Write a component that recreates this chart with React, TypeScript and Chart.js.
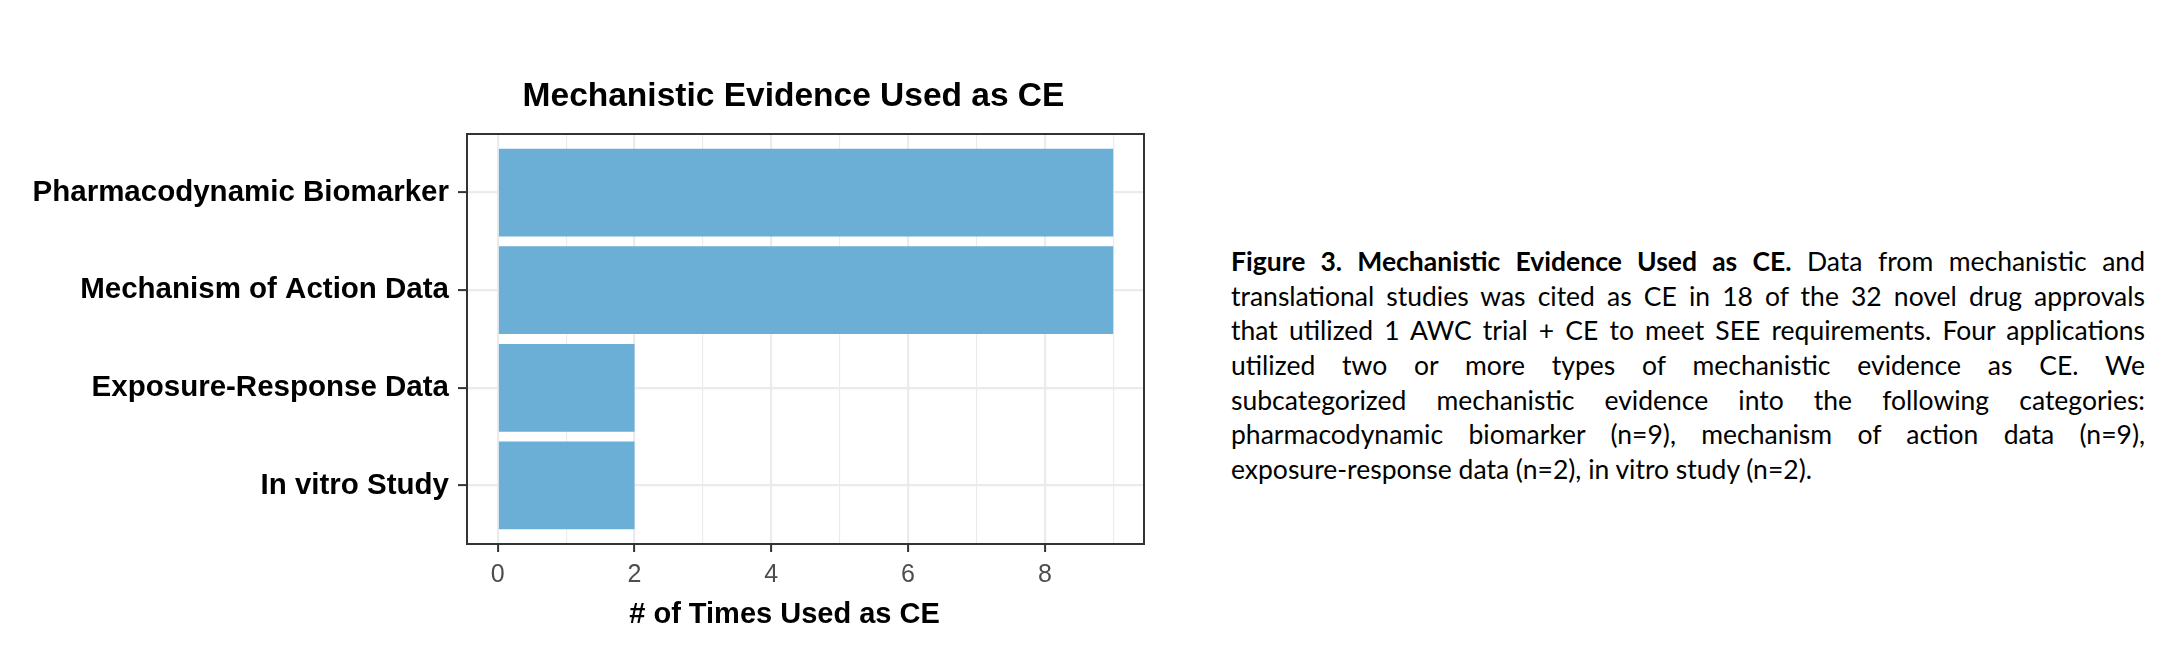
import React, { useEffect, useLayoutEffect, useRef, useState } from "react";
import { Chart, registerables } from "chart.js";

Chart.register(...registerables);

// ---- data ----
const categories = [
  "Pharmacodynamic Biomarker",
  "Mechanism of Action Data",
  "Exposure-Response Data",
  "In vitro Study",
];
const counts = [9, 9, 2, 2];
const xTickValues = [0, 1, 2, 3, 4, 5, 6, 7, 8, 9];
const xTickLabels = ["0", "", "2", "", "4", "", "6", "", "8", ""];
const chartTitle = "Mechanistic Evidence Used as CE";
const xAxisTitle = "# of Times Used as CE";
const captionBold = "Figure 3. Mechanistic Evidence Used as CE.";
const captionLines = [
  " Data from mechanistic and",
  "translational studies was cited as CE in 18 of the 32 novel drug approvals",
  "that utilized 1 AWC trial + CE to meet SEE requirements. Four applications",
  "utilized two or more types of mechanistic evidence as CE. We",
  "subcategorized mechanistic evidence into the following categories:",
  "pharmacodynamic biomarker (n=9), mechanism of action data (n=9),",
  "exposure-response data (n=2), in vitro study (n=2).",
];

const FONT = '"Liberation Sans", Arial, Helvetica, sans-serif';
const CAPTION_FONT = "Lato, 'Open Sans', sans-serif";
const CAPTION_WIDTH = 914;

const panelBorder = {
  id: "panelBorder",
  afterDatasetsDraw(chart: any) {
    const { ctx, chartArea } = chart;
    ctx.save();
    ctx.strokeStyle = "#333333";
    ctx.lineWidth = 2;
    ctx.strokeRect(
      chartArea.left,
      chartArea.top,
      chartArea.right - chartArea.left,
      chartArea.bottom - chartArea.top
    );
    ctx.restore();
  },
};

const figTexts = {
  id: "figTexts",
  afterDraw(chart: any) {
    const { ctx, chartArea } = chart;
    const cx = (chartArea.left + chartArea.right) / 2;
    ctx.save();
    ctx.fillStyle = "#000000";
    ctx.textAlign = "center";
    ctx.textBaseline = "alphabetic";
    ctx.font = `bold 33.5px ${FONT}`;
    ctx.fillText(chartTitle, cx - 12, chartArea.top - 28);
    ctx.font = `bold 29px ${FONT}`;
    ctx.fillText(xAxisTitle, cx - 21, chartArea.bottom + 79);
    ctx.restore();
  },
};

function BarChart() {
  const ref = useRef<HTMLCanvasElement>(null);
  useEffect(() => {
    if (!ref.current) return;
    const chart = new Chart(ref.current, {
      type: "bar",
      data: {
        datasets: [
          {
            data: counts.map((v, i) => ({ x: v, y: i + 1 })),
            backgroundColor: "#6baed6",
            borderWidth: 0,
            categoryPercentage: 1,
            barPercentage: 0.9,
          },
        ],
      },
      plugins: [panelBorder, figTexts],
      options: {
        animation: false,
        responsive: false,
        devicePixelRatio: 1,
        indexAxis: "y",
        layout: { padding: { top: 126, right: 64, left: 0, bottom: 0 } },
        plugins: {
          legend: { display: false },
          title: { display: false },
          tooltip: { enabled: false },
        },
        scales: {
          x: {
            type: "linear",
            min: -0.45,
            max: 9.45,
            offset: false,
            afterBuildTicks: (scale: any) => {
              scale.ticks = xTickValues.map((v) => ({ value: v }));
            },
            afterFit: (scale: any) => {
              scale.height = 98;
            },
            border: { display: false },
            grid: {
              offset: false,
              color: "#ebebeb",
              lineWidth: (c: any) =>
                c.tick && c.tick.value % 2 === 0 ? 2.2 : 1.1,
              drawTicks: true,
              tickLength: 8,
              tickWidth: 2,
              tickColor: (c: any) =>
                c.tick && c.tick.value % 2 === 0 ? "#333333" : "rgba(0,0,0,0)",
            },
            ticks: {
              autoSkip: false,
              maxRotation: 0,
              padding: 8,
              color: "#4d4d4d",
              font: { family: FONT, size: 25 },
              callback: (v: any) => {
                const i = xTickValues.indexOf(Number(v));
                return i >= 0 ? xTickLabels[i] : "";
              },
            },
          },
          y: {
            type: "linear",
            min: 0.4,
            max: 4.6,
            reverse: true,
            offset: false,
            afterBuildTicks: (scale: any) => {
              scale.ticks = categories.map((_, i) => ({ value: i + 1 }));
            },
            afterFit: (scale: any) => {
              scale.width = 459;
            },
            border: { display: false },
            grid: {
              offset: false,
              color: "#ebebeb",
              lineWidth: 2.2,
              drawTicks: true,
              tickLength: 9,
              tickWidth: 2,
              tickColor: "#333333",
            },
            ticks: {
              autoSkip: false,
              padding: 9,
              color: "#000000",
              font: { family: FONT, size: 29.5, weight: "bold" },
              callback: (v: any) => categories[Number(v) - 1] ?? "",
            },
          },
        },
      },
    } as any);
    return () => chart.destroy();
  }, []);
  return (
    <canvas
      ref={ref}
      width={1200}
      height={634}
      style={{ position: "absolute", left: 0, top: 0, width: 1200, height: 634 }}
    />
  );
}

function fitCaptionSize(): number {
  const maxSize = 26.5;
  try {
    const c = document.createElement("canvas").getContext("2d");
    if (!c) return 25;
    let widest = 0;
    captionLines.forEach((line, i) => {
      if (i === captionLines.length - 1) return;
      let w = 0;
      if (i === 0) {
        c.font = `bold ${maxSize}px ${CAPTION_FONT}`;
        w += c.measureText(captionBold).width;
      }
      c.font = `${maxSize}px ${CAPTION_FONT}`;
      w += c.measureText(line).width;
      widest = Math.max(widest, w);
    });
    const limit = CAPTION_WIDTH - 4;
    return widest > limit ? Math.floor((maxSize * limit) / widest * 10) / 10 : maxSize;
  } catch (e) {
    return 25;
  }
}

export default function App() {
  const [capSize, setCapSize] = useState(25);
  useLayoutEffect(() => {
    setCapSize(fitCaptionSize());
  }, []);
  const lineStyle = (last: boolean): React.CSSProperties => ({
    textAlign: last ? "left" : "justify",
    textAlignLast: last ? "left" : "justify",
    height: 34.7,
    lineHeight: "34.7px",
    whiteSpace: "nowrap",
  });
  return (
    <div style={{ position: "relative", width: 2151, height: 634 }}>
      <BarChart />
      <div
        style={{
          position: "absolute",
          left: 1223,
          top: 236,
          width: CAPTION_WIDTH,
          fontFamily: CAPTION_FONT,
          fontSize: capSize,
          color: "#000",
        }}
      >
        {captionLines.map((line, i) => (
          <div key={i} style={lineStyle(i === captionLines.length - 1)}>
            {i === 0 ? (
              <>
                <b>{captionBold}</b>
                {line}
              </>
            ) : (
              line
            )}
          </div>
        ))}
      </div>
    </div>
  );
}
